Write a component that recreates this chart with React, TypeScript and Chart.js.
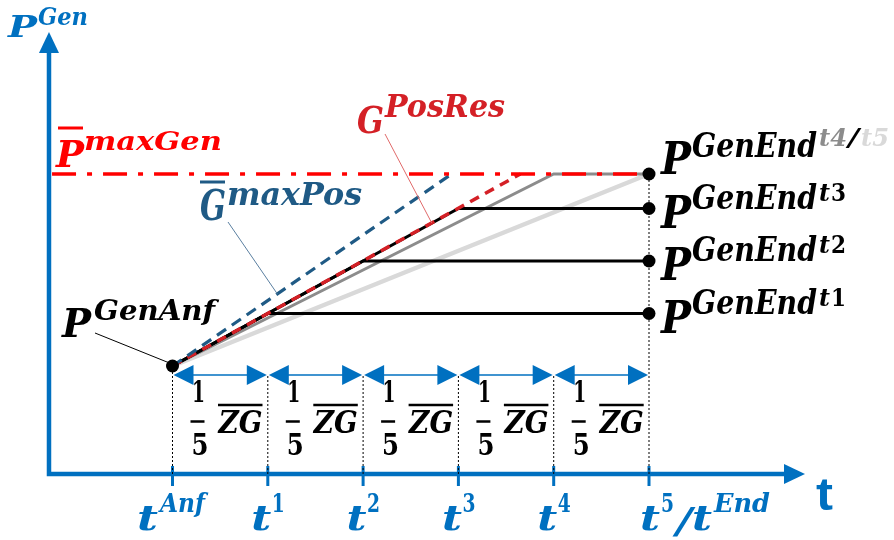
import React, { useEffect, useRef } from "react";
import { Chart, registerables } from "chart.js";

Chart.register(...registerables);

// Time grid t^Anf … t^5, one unit = ZG/5
const tTicks = [0, 1, 2, 3, 4, 5];
const tSupers = ["Anf", "1", "2", "3", "4", "5"];
// Power levels (arbitrary units)
const pAnf = 36;
const pMaxGen = 100;
// P^GenEnd when the ramp stops at t1, t2, t3
const tStops = [1, 2, 3];
const pEndStops = [53.5, 71, 88.5];
const endSupers = ["1", "2", "3"];
// ramp reaching P^maxGen exactly at t4 / t5
const tFullRamps = [4, 5];
// where the limiting gradients reach P^maxGen
const tMaxPosHit = 2.93;
const tPosResHit = 3.65;
// level of the ZG/5 interval arrows
const pIntervalRow = 33;
// axis extents
const tAxisStart = -1.296;
const tAxisEnd = 6.637;
const pAxisTop = 147.3;
const tMaxLineStart = -1.264;

const X_MIN = -1.81007;
const X_MAX = 7.57083;
const Y_MIN = -22;
const Y_MAX = 158;

const BLUE = "#0070C0";
const NAVY = "#1F5A85";
const RED = "#FF0000";
const DARKRED = "#D42026";
const GRAY = "#8C8C8C";
const LIGHT = "#D9D9D9";
const SERIF = '"DejaVu Serif"';

type Ctx = CanvasRenderingContext2D;

function txt(
  ctx: Ctx,
  s: string,
  x: number,
  y: number,
  size: number,
  color: string,
  w?: number,
  italic = true,
  family = SERIF
) {
  ctx.save();
  ctx.font = `${italic ? "italic " : ""}bold ${size}px ${family}`;
  ctx.fillStyle = color;
  ctx.textAlign = "left";
  ctx.textBaseline = "alphabetic";
  const m = ctx.measureText(s).width;
  ctx.translate(x, y);
  if (w) ctx.scale(w / m, 1);
  ctx.fillText(s, 0, 0);
  ctx.restore();
}

function bar(ctx: Ctx, x1: number, x2: number, y: number, lw: number, color: string) {
  ctx.save();
  ctx.strokeStyle = color;
  ctx.lineWidth = lw;
  ctx.beginPath();
  ctx.moveTo(x1, y);
  ctx.lineTo(x2, y);
  ctx.stroke();
  ctx.restore();
}

function seg(ctx: Ctx, x1: number, y1: number, x2: number, y2: number, lw: number, color: string) {
  ctx.save();
  ctx.strokeStyle = color;
  ctx.lineWidth = lw;
  ctx.beginPath();
  ctx.moveTo(x1, y1);
  ctx.lineTo(x2, y2);
  ctx.stroke();
  ctx.restore();
}

function tri(ctx: Ctx, pts: number[][], color: string) {
  ctx.save();
  ctx.fillStyle = color;
  ctx.beginPath();
  ctx.moveTo(pts[0][0], pts[0][1]);
  for (let i = 1; i < pts.length; i++) ctx.lineTo(pts[i][0], pts[i][1]);
  ctx.closePath();
  ctx.fill();
  ctx.restore();
}

const diagramPlugin = {
  id: "diagram",
  beforeDatasetsDraw(chart: any) {
    const ctx: Ctx = chart.ctx;
    const xs = chart.scales.x;
    const ys = chart.scales.y;
    const X = (v: number) => xs.getPixelForValue(v);
    const Y = (v: number) => ys.getPixelForValue(v);
    const x0 = X(tAxisStart);
    const y0 = Y(0);
    // axes
    ctx.save();
    ctx.strokeStyle = BLUE;
    ctx.lineWidth = 4.5;
    ctx.lineCap = "butt";
    ctx.lineJoin = "miter";
    ctx.beginPath();
    ctx.moveTo(x0, Y(pAxisTop) + 18);
    ctx.lineTo(x0, y0);
    ctx.lineTo(X(tAxisEnd) - 18, y0);
    ctx.stroke();
    ctx.restore();
    tri(ctx, [[x0, Y(pAxisTop)], [x0 - 10, Y(pAxisTop) + 21], [x0 + 10, Y(pAxisTop) + 21]], BLUE);
    tri(ctx, [[X(tAxisEnd), y0], [X(tAxisEnd) - 21, y0 - 10], [X(tAxisEnd) - 21, y0 + 10]], BLUE);
    // ticks
    tTicks.forEach((t) => seg(ctx, X(t), y0 - 8, X(t), y0 + 12, 3, BLUE));
  },
  afterDatasetsDraw(chart: any) {
    const ctx: Ctx = chart.ctx;
    const xs = chart.scales.x;
    const ys = chart.scales.y;
    const X = (v: number) => xs.getPixelForValue(v);
    const Y = (v: number) => ys.getPixelForValue(v);

    // ZG/5 interval arrows
    const ya = Y(pIntervalRow);
    for (let k = 0; k < tTicks.length - 1; k++) {
      const a = X(tTicks[k]);
      const b = X(tTicks[k + 1]);
      seg(ctx, a + 10, ya, b - 10, ya, 1.6, BLUE);
      tri(ctx, [[a + 1, ya], [a + 21, ya - 10], [a + 21, ya + 10]], BLUE);
      tri(ctx, [[b - 1, ya], [b - 21, ya - 10], [b - 21, ya + 10]], BLUE);
      // fraction 1/5 · ZG
      txt(ctx, "1", a + 19.5, ya + 27, 30, "#000", 13, false);
      txt(ctx, "5", a + 19, ya + 80, 30, "#000", 17, false);
      bar(ctx, a + 18, a + 32, ya + 46.5, 2.5, "#000");
      bar(ctx, a + 45.5, a + 90, ya + 30, 2.5, "#000");
      txt(ctx, "ZG", a + 46, ya + 58, 31, "#000", 44);
    }

    // leader lines
    const gAnf = X(0);
    seg(ctx, 95, 333, gAnf - 3, Y(pAnf) - 3, 1, "#000");
    const tm = 1.1;
    seg(ctx, 228, 222, X(tm), Y(pAnf + ((pMaxGen - pAnf) / tMaxPosHit) * tm), 1, "#5A7FA0");
    const tr = 2.72;
    seg(ctx, 385, 134, X(tr), Y(pAnf + ((pMaxGen - pAnf) / tPosResHit) * tr), 1, "#E06A6A");

    // y axis title P^Gen
    txt(ctx, "P", 8, 37, 30, BLUE, 29);
    txt(ctx, "Gen", 38, 25, 24, BLUE, 50);

    // P̄^maxGen
    bar(ctx, 58, 83, 128, 3, RED);
    txt(ctx, "P", 56, 167, 38, RED, 28);
    txt(ctx, "maxGen", 84, 150, 26, RED, 138);

    // Ḡ^maxPos
    bar(ctx, 200, 225, 182, 3, NAVY);
    txt(ctx, "G", 200, 220, 42, NAVY, 26);
    txt(ctx, "maxPos", 227, 205, 32, NAVY, 135);

    // G^PosRes
    txt(ctx, "G", 357, 133, 38, DARKRED, 27);
    txt(ctx, "PosRes", 385, 117, 32, DARKRED, 120);

    // P^GenAnf
    txt(ctx, "P", 62, 337, 40, "#000", 29);
    txt(ctx, "GenAnf", 94, 320, 28, "#000", 121);

    // P^GenEnd labels
    const xe = X(5);
    tStops.forEach((t, i) => {
      const yd = Y(pEndStops[i]);
      txt(ctx, "P", xe + 12, yd + 19, 44, "#000", 30);
      txt(ctx, "GenEnd", xe + 43, yd, 33, "#000", 125);
      txt(ctx, "t", xe + 170, yd - 8, 25, "#000", 11);
      txt(ctx, endSupers[i], xe + 182, yd - 8, 25, "#000", 15, false);
    });
    const ym = Y(pMaxGen);
    txt(ctx, "P", xe + 12, ym, 44, "#000", 30);
    txt(ctx, "GenEnd", xe + 43, ym - 17, 33, "#000", 125);
    txt(ctx, "t4", xe + 170, ym - 28, 25, GRAY, 28);
    txt(ctx, "/", xe + 199, ym - 28, 25, "#000", 11);
    txt(ctx, "t5", xe + 212, ym - 28, 25, LIGHT, 28);

    // time tick labels
    const yb = 530;
    const ys2 = 512;
    tTicks.forEach((t, i) => {
      const xt = X(t);
      if (i === 0) {
        txt(ctx, "t", xt - 35.5, yb, 36, BLUE, 21);
        txt(ctx, tSupers[i], xt - 12.5, ys2, 26, BLUE, 45);
      } else if (i < tTicks.length - 1) {
        txt(ctx, "t", xt - 16.5, yb, 36, BLUE, 20);
        txt(ctx, tSupers[i], xt + 4, ys2, 26, BLUE, 13, false);
      } else {
        txt(ctx, "t", xt - 9, yb, 36, BLUE, 20);
        txt(ctx, tSupers[i], xt + 12, ys2, 26, BLUE, 13, false);
        txt(ctx, "/", xt + 27, yb + 3, 36, BLUE, 16);
        txt(ctx, "t", xt + 43, yb, 36, BLUE, 20);
        txt(ctx, "End", xt + 65, ys2, 26, BLUE, 56);
      }
    });
    // x axis title
    txt(ctx, "t", 816, 510, 46, BLUE, 17, false, '"Liberation Sans"');
  },
};

function line(data: { x: number; y: number }[], color: string, width: number, order: number, dash: number[] = []) {
  return {
    data,
    showLine: true,
    borderColor: color,
    borderWidth: width,
    borderDash: dash,
    pointRadius: 0,
    fill: false,
    tension: 0,
    clip: false as any,
    order,
    borderCapStyle: "butt" as const,
  };
}

export default function App() {
  const ref = useRef<HTMLCanvasElement | null>(null);

  useEffect(() => {
    if (!ref.current) return;
    const start = { x: 0, y: pAnf };
    const datasets: any[] = [];

    // guide lines down to the time axis
    tTicks.forEach((t, i) => {
      const top = i === 0 ? pAnf : i === tTicks.length - 1 ? pMaxGen : pIntervalRow;
      datasets.push(line([{ x: t, y: 0 }, { x: t, y: top }], "#000", 1, 9, [2, 2]));
    });
    // ramps reaching P^maxGen at t5 (light) and t4 (gray)
    datasets.push(line([start, { x: tFullRamps[1], y: pMaxGen }], LIGHT, 4.5, 7));
    datasets.push(line([start, { x: tFullRamps[0], y: pMaxGen }, { x: 5, y: pMaxGen }], GRAY, 3, 6));
    // ramps stopping at t1, t2, t3
    tStops.forEach((t, i) => {
      datasets.push(
        line([start, { x: t, y: pEndStops[i] }, { x: 5, y: pEndStops[i] }], "#000", 3, 5)
      );
    });
    // G^PosRes
    datasets.push(line([start, { x: tPosResHit, y: pMaxGen }], DARKRED, 3.5, 4, [10, 7]));
    // Ḡ^maxPos
    datasets.push(line([start, { x: tMaxPosHit, y: pMaxGen }], NAVY, 3.2, 3, [11, 7]));
    // P̄^maxGen
    datasets.push(line([{ x: tMaxLineStart, y: pMaxGen }, { x: 5, y: pMaxGen }], RED, 3.5, 2, [24, 11, 5, 11]));
    // end points
    datasets.push({
      data: [start, ...pEndStops.map((p) => ({ x: 5, y: p })), { x: 5, y: pMaxGen }],
      showLine: false,
      pointRadius: 6.5,
      pointBackgroundColor: "#000",
      pointBorderWidth: 0,
      clip: false,
      order: 0,
    });

    const chart = new Chart(ref.current, {
      type: "scatter",
      data: { datasets },
      options: {
        animation: false,
        responsive: false,
        maintainAspectRatio: false,
        events: [],
        layout: { padding: 0, autoPadding: false } as any,
        plugins: {
          legend: { display: false },
          tooltip: { enabled: false },
          title: { display: false },
        },
        scales: {
          x: { type: "linear", min: X_MIN, max: X_MAX, display: false },
          y: { type: "linear", min: Y_MIN, max: Y_MAX, display: false },
        },
      },
      plugins: [diagramPlugin],
    });
    return () => chart.destroy();
  }, []);

  return (
    <div style={{ position: "fixed", left: 0, top: 0, width: 894, height: 540, background: "#fff" }}>
      <canvas ref={ref} width={894} height={540} style={{ display: "block" }} />
    </div>
  );
}
